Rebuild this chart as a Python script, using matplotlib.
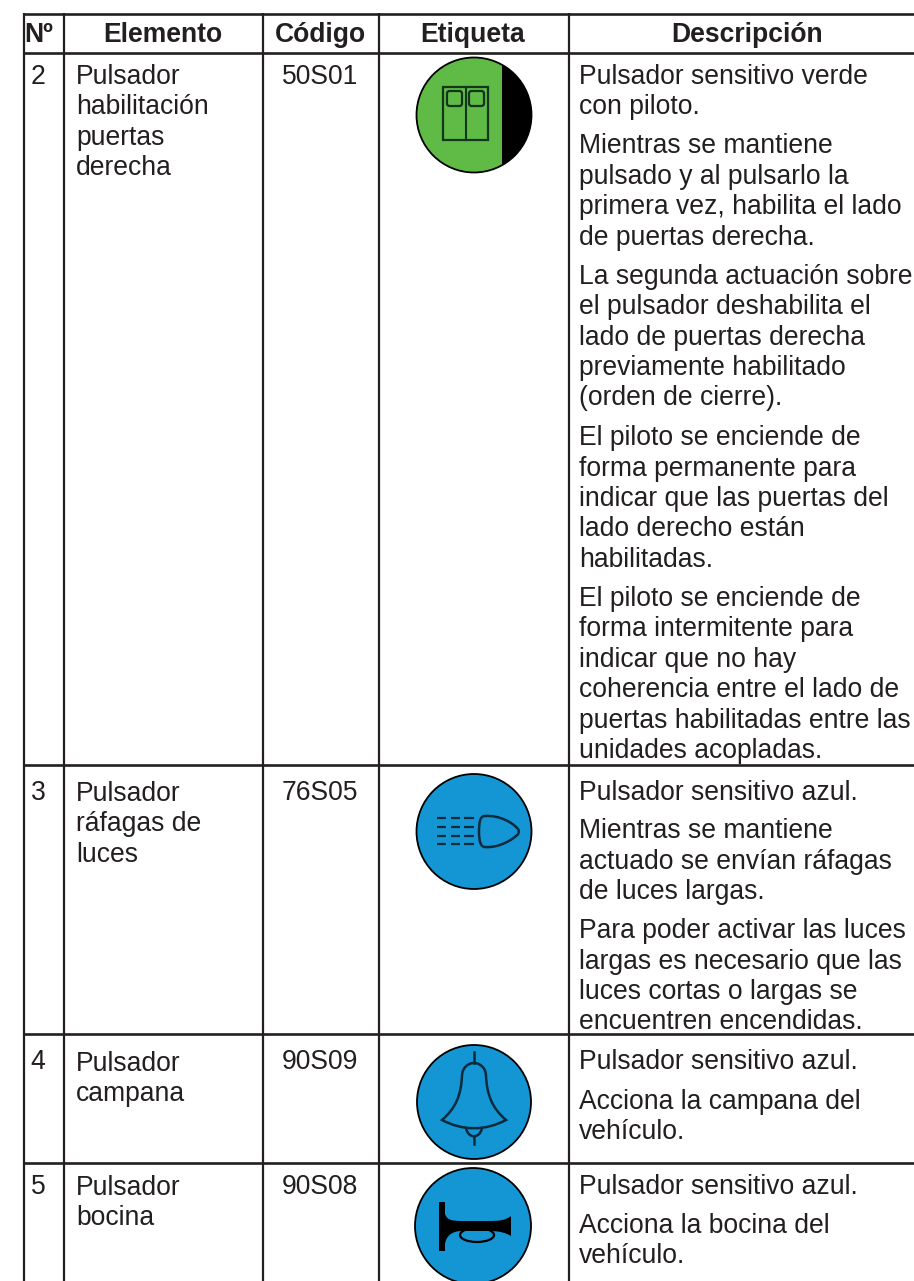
import matplotlib
matplotlib.use('Agg')
from matplotlib import pyplot as plt
from matplotlib.path import Path
from matplotlib.patches import PathPatch, Circle, Rectangle, FancyBboxPatch, Ellipse

plt.rcParams['font.family'] = ['Liberation Sans', 'DejaVu Sans']

# table text
headers = ['Nº', 'Elemento', 'Código', 'Etiqueta', 'Descripción']
header_x = [39, 163, 320, 473, 747]
numbers = ['2', '3', '4', '5']
codes = ['50S01', '76S05', '90S09', '90S08']
row_y = [84, 800, 1069, 1194]
elem_y = [84, 801, 1071, 1195]
elementos = [['Pulsador', 'habilitación', 'puertas', 'derecha'],
             ['Pulsador', 'ráfagas de', 'luces'],
             ['Pulsador', 'campana'],
             ['Pulsador', 'bocina']]
desc_lines = ['Pulsador sensitivo verde', 'con piloto.',
              'Mientras se mantiene', 'pulsado y al pulsarlo la',
              'primera vez, habilita el lado', 'de puertas derecha.',
              'La segunda actuación sobre', 'el pulsador deshabilita el',
              'lado de puertas derecha', 'previamente habilitado', '(orden de cierre).',
              'El piloto se enciende de', 'forma permanente para',
              'indicar que las puertas del', 'lado derecho están', 'habilitadas.',
              'El piloto se enciende de', 'forma intermitente para',
              'indicar que no hay', 'coherencia entre el lado de',
              'puertas habilitadas entre las', 'unidades acopladas.',
              'Pulsador sensitivo azul.',
              'Mientras se mantiene', 'actuado se envían ráfagas', 'de luces largas.',
              'Para poder activar las luces', 'largas es necesario que las',
              'luces cortas o largas se', 'encuentren encendidas.',
              'Pulsador sensitivo azul.',
              'Acciona la campana del', 'vehículo.',
              'Pulsador sensitivo azul.',
              'Acciona la bocina del', 'vehículo.']
desc_y = [84, 114, 153, 184, 214, 245, 284, 314, 345, 375, 405,
          445, 476, 506, 536, 567, 606, 636, 667, 697, 728, 758,
          800, 838, 869, 899, 938, 969, 999, 1029,
          1069, 1109, 1139, 1194, 1233, 1263]

ink = '#231f20'
dark = '#0b2a3c'
door = '#12361a'
green = '#5fba46'
blue = '#1496d4'

fig = plt.figure(figsize=(9.14, 12.81), dpi=100)
ax = fig.add_axes([0, 0, 1, 1])
ax.set_xlim(0, 914)
ax.set_ylim(1281, 0)
ax.axis('off')

# grid
for y in [14, 53, 765, 1034, 1163]:
    ax.plot([24, 914], [y, y], color=ink, lw=1.9, solid_capstyle='butt')
for x in [24, 64, 263, 379, 569]:
    ax.plot([x, x], [13, 1281], color=ink, lw=1.6, solid_capstyle='butt')

fs = 19.1
for h, x in zip(headers, header_x):
    ax.text(x, 42, h, ha='center', va='baseline', fontsize=fs, fontweight='bold', color=ink)
for n, c, y, ey, el in zip(numbers, codes, row_y, elem_y, elementos):
    ax.text(38, y, n, ha='center', va='baseline', fontsize=fs, color=ink)
    ax.text(320, y, c, ha='center', va='baseline', fontsize=fs, color=ink)
    for i, s in enumerate(el):
        ax.text(76, ey + i * 30.4, s, ha='left', va='baseline', fontsize=fs, color=ink)
for s, y in zip(desc_lines, desc_y):
    ax.text(579, y, s, ha='left', va='baseline', fontsize=fs, color=ink)

# icon 1: doors
c1 = Circle((474, 115), 57.5, fc=green, ec='black', lw=1.3, zorder=2)
ax.add_patch(c1)
black = Rectangle((502, 50), 40, 130, fc='black', ec='none', zorder=3)
ax.add_patch(black)
black.set_clip_path(c1)
ax.add_patch(Rectangle((443, 87), 45, 53, fc='none', ec=door, lw=1.6, zorder=4))
ax.plot([466, 466], [87, 140], color=door, lw=1.5, zorder=4)
for wx in [447, 469]:
    ax.add_patch(FancyBboxPatch((wx, 91), 15, 15, boxstyle='round,pad=0,rounding_size=2.5',
                                fc='none', ec=door, lw=1.6, zorder=4))

# icon 2: headlight
ax.add_patch(Circle((474, 831.5), 57.5, fc=blue, ec='black', lw=1.3, zorder=2))
for y in [818, 827, 836, 844]:
    for x0, x1 in [(437, 446), (451, 460), (464, 474)]:
        ax.plot([x0, x1], [y, y], color=dark, lw=1.6, zorder=3, solid_capstyle='butt')
lamp = Path([(485, 816), (500, 815), (513, 823), (518, 829),
             (520, 832), (518, 835), (516, 836),
             (508, 843), (495, 848), (485, 847),
             (481, 847), (479, 842), (479, 832),
             (479, 822), (480, 816), (485, 816)],
            [Path.MOVETO] + [Path.CURVE4] * 15)
ax.add_patch(PathPatch(lamp, fc='none', ec=dark, lw=1.8, zorder=3))

# icon 3: bell
ax.add_patch(Circle((474, 1102), 57, fc=blue, ec='black', lw=1.3, zorder=2))
ax.plot([474, 474], [1052, 1063], color=dark, lw=1.8, zorder=3)
ax.plot([474, 474], [1136, 1144], color=dark, lw=1.8, zorder=3)
bell = Path([(462, 1076), (462, 1068), (468, 1063), (474, 1063),
             (480, 1063), (486, 1068), (486, 1076),
             (487, 1095), (492, 1108), (506, 1120),
             (485, 1131), (463, 1131), (442, 1120),
             (456, 1108), (461, 1095), (462, 1076)],
            [Path.MOVETO] + [Path.CURVE4] * 15)
ax.add_patch(PathPatch(bell, fc='none', ec=dark, lw=1.8, zorder=3))
clapper = Path([(466, 1128), (468, 1139), (480, 1139), (482, 1128)],
               [Path.MOVETO] + [Path.CURVE4] * 3)
ax.add_patch(PathPatch(clapper, fc='none', ec=dark, lw=1.8, zorder=3))

# icon 4: horn
ax.add_patch(Circle((473, 1226), 58, fc=blue, ec='black', lw=1.3, zorder=2))
horn = Path([(439, 1202), (445, 1202), (445, 1214),
             (447, 1220), (452, 1221), (462, 1221), (490, 1221),
             (500, 1221), (506, 1220), (511, 1216), (511, 1236),
             (506, 1233), (500, 1231), (490, 1231), (462, 1231),
             (452, 1231), (446, 1236), (445, 1244), (445, 1251), (439, 1251), (439, 1202)],
            [Path.MOVETO, Path.LINETO, Path.LINETO,
             Path.CURVE4, Path.CURVE4, Path.CURVE4, Path.LINETO,
             Path.CURVE4, Path.CURVE4, Path.CURVE4, Path.LINETO,
             Path.CURVE4, Path.CURVE4, Path.CURVE4, Path.LINETO,
             Path.CURVE4, Path.CURVE4, Path.CURVE4, Path.LINETO, Path.LINETO, Path.CLOSEPOLY])
ax.add_patch(PathPatch(horn, fc='black', ec='none', zorder=3))
ax.add_patch(Ellipse((477, 1235), 34, 14, fc='none', ec='black', lw=1.6, zorder=2.5))

fig.savefig('out.png', dpi=100)
